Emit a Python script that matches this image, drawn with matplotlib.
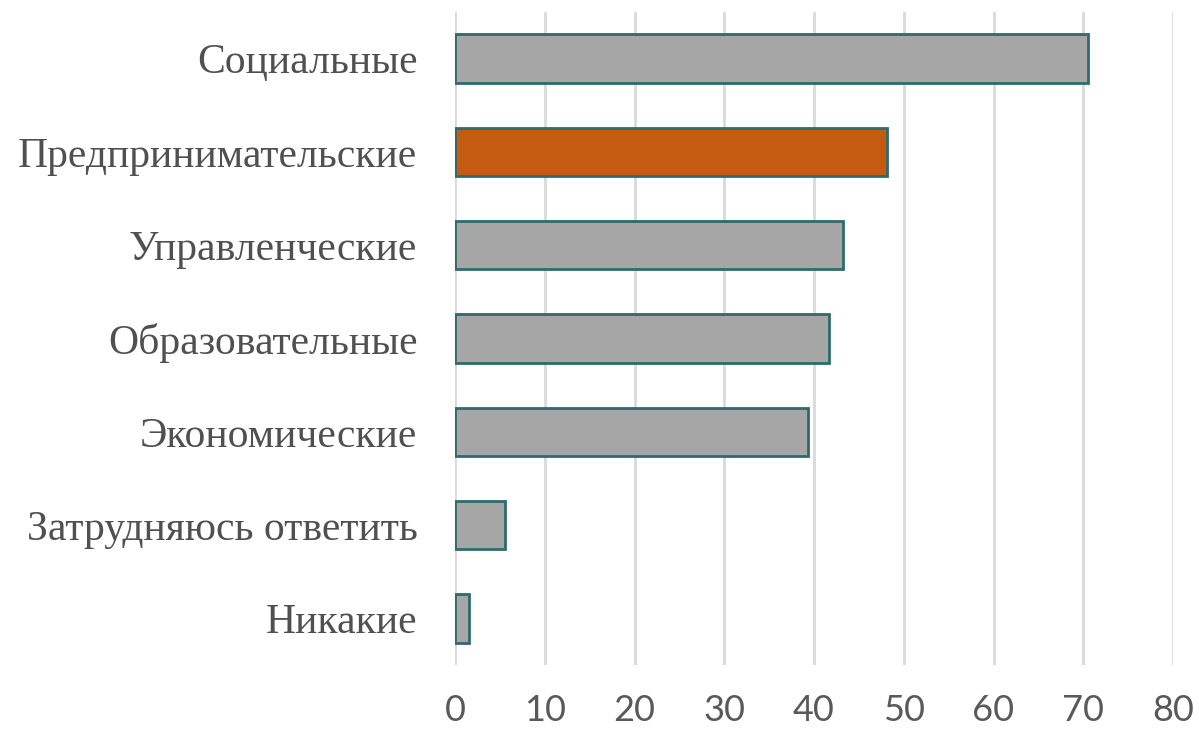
import matplotlib
matplotlib.use("Agg")
import matplotlib.pyplot as plt

categories = ["Социальные", "Предпринимательские", "Управленческие", "Образовательные",
              "Экономические", "Затрудняюсь ответить", "Никакие"]
values = [70.5, 48.1, 43.2, 41.7, 39.3, 5.6, 1.6]
highlight = "Предпринимательские"
xticks = [0, 10, 20, 30, 40, 50, 60, 70, 80]

colors = ["#C55A11" if c == highlight else "#A6A6A6" for c in categories]

fig = plt.figure(figsize=(11.99, 7.3), dpi=100)
ax = fig.add_axes([455 / 1199, 65 / 730, 718 / 1199, 653 / 730])

ypos = list(range(len(categories)))
ax.barh(ypos, values, height=0.52, color=colors, edgecolor="#2F6A6C", linewidth=2, zorder=3)
ax.set_yticks(ypos)
ax.set_yticklabels(categories, fontsize=30, family="Liberation Serif", color="#505050")
ax.set_ylim(len(categories) - 0.5, -0.5)

ax.set_xlim(0, 80)
ax.set_xticks(xticks)
ax.set_xticklabels([str(t) for t in xticks], fontsize=26, family="Lato", color="#595959")
ax.tick_params(axis="both", length=0)
ax.tick_params(axis="x", pad=21)
ax.tick_params(axis="y", pad=27)
ax.grid(axis="x", color="#D9D9D9", linewidth=2, zorder=0)
for s in ax.spines.values():
    s.set_visible(False)

fig.savefig("out.png", dpi=100)
